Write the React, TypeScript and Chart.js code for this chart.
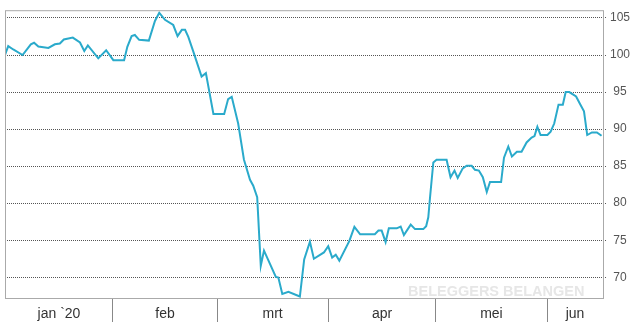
import React, { useEffect, useRef } from "react";
import { Chart, registerables } from "chart.js";

Chart.register(...registerables);

// days since 1 Jan 2020 (0 = 1 Jan)
const days = [
  0.9, 1.8, 3.2, 5.8, 8.1, 9.0, 10.2, 13.0, 14.8, 16.2, 17.3, 19.8, 21.8, 23.0, 24.0, 26.9, 29.1,
  31.1, 34.1, 35.0, 36.2, 37.1, 38.3, 41.0, 42.7, 43.9, 45.5, 47.8, 49.0, 50.2, 51.1, 52.0, 53.4,
  55.7, 56.9, 59.0, 62.0, 63.1, 64.1, 65.9, 67.5, 69.2, 70.1, 71.2, 72.2, 73.1, 76.4, 77.1, 78.2,
  79.9, 83.1, 84.3, 85.9, 87.0, 89.8, 91.0, 92.1, 93.1, 94.1, 96.9, 98.3, 99.9, 104.0, 105.0, 105.9,
  107.0, 107.9, 110.1, 111.2, 112.1, 114.0, 115.2, 117.5, 118.3, 118.9, 119.4, 120.3, 121.2, 124.0,
  125.1, 126.2, 127.1, 128.5, 129.6, 131.0, 131.9, 133.0, 134.1, 135.2, 136.1, 139.2, 140.0, 141.2,
  142.2, 143.6, 144.9, 146.3, 147.7, 148.5, 149.3, 150.2, 152.1, 153.0, 154.0, 155.2, 156.4, 157.2,
  158.2, 160.1, 161.2, 162.3, 163.2, 164.5, 165.9, 167.2,
];

const values = [
  100.0, 101.2, 100.75, 100.0, 101.45, 101.65, 101.15, 100.95, 101.45, 101.55, 102.1, 102.35, 101.7,
  100.55, 101.3, 99.55, 100.65, 99.3, 99.3, 101.1, 102.55, 102.7, 102.05, 101.95, 104.6, 105.7,
  104.75, 104.05, 102.55, 103.4, 103.4, 102.45, 100.45, 97.1, 97.55, 92.05, 92.05, 94.05, 94.35,
  90.75, 85.9, 83.15, 82.35, 80.8, 71.55, 73.6, 70.05, 69.95, 67.75, 68.05, 67.4, 72.4, 74.8, 72.5,
  73.35, 74.2, 72.65, 73.05, 72.25, 74.9, 76.8, 75.8, 75.8, 76.3, 76.3, 74.75, 76.6, 76.6, 76.85,
  75.7, 77.1, 76.5, 76.5, 76.9, 78.1, 80.87, 85.5, 85.85, 85.85, 83.5, 84.4, 83.4, 84.7, 85.05,
  85.05, 84.5, 84.4, 83.5, 81.5, 82.85, 82.85, 86.15, 87.65, 86.3, 86.95, 86.95, 88.2, 88.85, 89.05,
  90.3, 89.2, 89.2, 89.65, 90.75, 93.3, 93.3, 95.0, 95.0, 94.4, 93.4, 92.4, 89.2, 89.55, 89.55, 89.1,
];

const monthLabels = ["jan `20", "feb", "mrt", "apr", "mei", "jun"];
const monthStarts = [31, 60, 91, 121, 152];
const yTicks = [70, 75, 80, 85, 90, 95, 100, 105];

const xMin = 0.9;
const xMax = 167.6;
const yMin = 67.2;
const yMax = 106.05;

const boxPlugin = {
  id: "box",
  beforeDatasetsDraw(chart: any) {
    const { ctx, chartArea } = chart;
    ctx.save();
    ctx.font = 'bold 14.5px "Liberation Sans", Arial, sans-serif';
    ctx.fillStyle = "#e6e6e6";
    ctx.textAlign = "left";
    ctx.textBaseline = "alphabetic";
    ctx.fillText("BELEGGERS BELANGEN", chartArea.right - 195, chartArea.bottom - 2);
    ctx.restore();
  },
  afterDraw(chart: any) {
    const { ctx, chartArea } = chart;
    ctx.save();
    ctx.strokeStyle = "#aaaaaa";
    ctx.lineWidth = 1;
    ctx.strokeRect(
      chartArea.left + 0.5,
      chartArea.top + 0.5,
      chartArea.right - chartArea.left,
      chartArea.bottom - chartArea.top
    );
    ctx.restore();
  },
};

export default function App() {
  const ref = useRef<HTMLCanvasElement>(null);

  useEffect(() => {
    if (!ref.current) return;
    Chart.defaults.font.family = '"Liberation Sans", Arial, sans-serif';
    const chart = new Chart(ref.current, {
      type: "line",
      data: {
        datasets: [
          {
            data: days.map((d, i) => ({ x: d, y: values[i] })),
            borderColor: "#2aaacb",
            borderWidth: 2,
            pointRadius: 0,
            tension: 0,
            fill: false,
          },
        ],
      },
      options: {
        animation: false,
        responsive: false,
        parsing: false as any,
        layout: { padding: { left: 5, top: 4, right: 0, bottom: 0 } },
        plugins: { legend: { display: false }, tooltip: { enabled: false } },
        scales: {
          x: {
            type: "linear",
            min: xMin,
            max: xMax,
            afterBuildTicks: (scale: any) => {
              const bounds = [xMin, ...monthStarts, xMax];
              const t: any[] = [];
              for (let i = 0; i < bounds.length - 1; i++) {
                t.push({ value: (bounds[i] + bounds[i + 1]) / 2 });
                if (i < monthStarts.length) t.push({ value: monthStarts[i] });
              }
              scale.ticks = t;
            },
            afterFit: (scale: any) => {
              scale.height = 30;
            },
            grid: {
              display: true,
              drawOnChartArea: false,
              drawTicks: true,
              tickLength: 24,
              tickWidth: 1,
              tickColor: (ctx: any) => (ctx.index % 2 === 1 ? "#888888" : "rgba(0,0,0,0)"),
            },
            border: { display: false },
            ticks: {
              autoSkip: false,
              maxRotation: 0,
              minRotation: 0,
              padding: -16,
              color: "#333333",
              font: { size: 14 },
              callback: (_v: any, index: number) => (index % 2 === 0 ? monthLabels[index / 2] : ""),
            },
          },
          y: {
            type: "linear",
            position: "right",
            min: yMin,
            max: yMax,
            afterBuildTicks: (scale: any) => {
              scale.ticks = yTicks.map((v) => ({ value: v }));
            },
            afterFit: (scale: any) => {
              scale.width = 28;
            },
            grid: {
              color: "#555555",
              lineWidth: 1,
              drawTicks: true,
              tickLength: 4,
              tickColor: "#555555",
              tickBorderDash: [1, 1],
            },
            border: { display: false, dash: [1, 1] },
            ticks: {
              padding: 3,
              crossAlign: "center",
              color: "#555555",
              font: { size: 12 },
              callback: (v: any) => String(v),
            },
          },
        },
      },
      plugins: [boxPlugin],
    });
    return () => chart.destroy();
  }, []);

  return (
    <canvas
      ref={ref}
      width={631}
      height={328}
      style={{ position: "fixed", left: 0, top: 0, display: "block" }}
    />
  );
}
